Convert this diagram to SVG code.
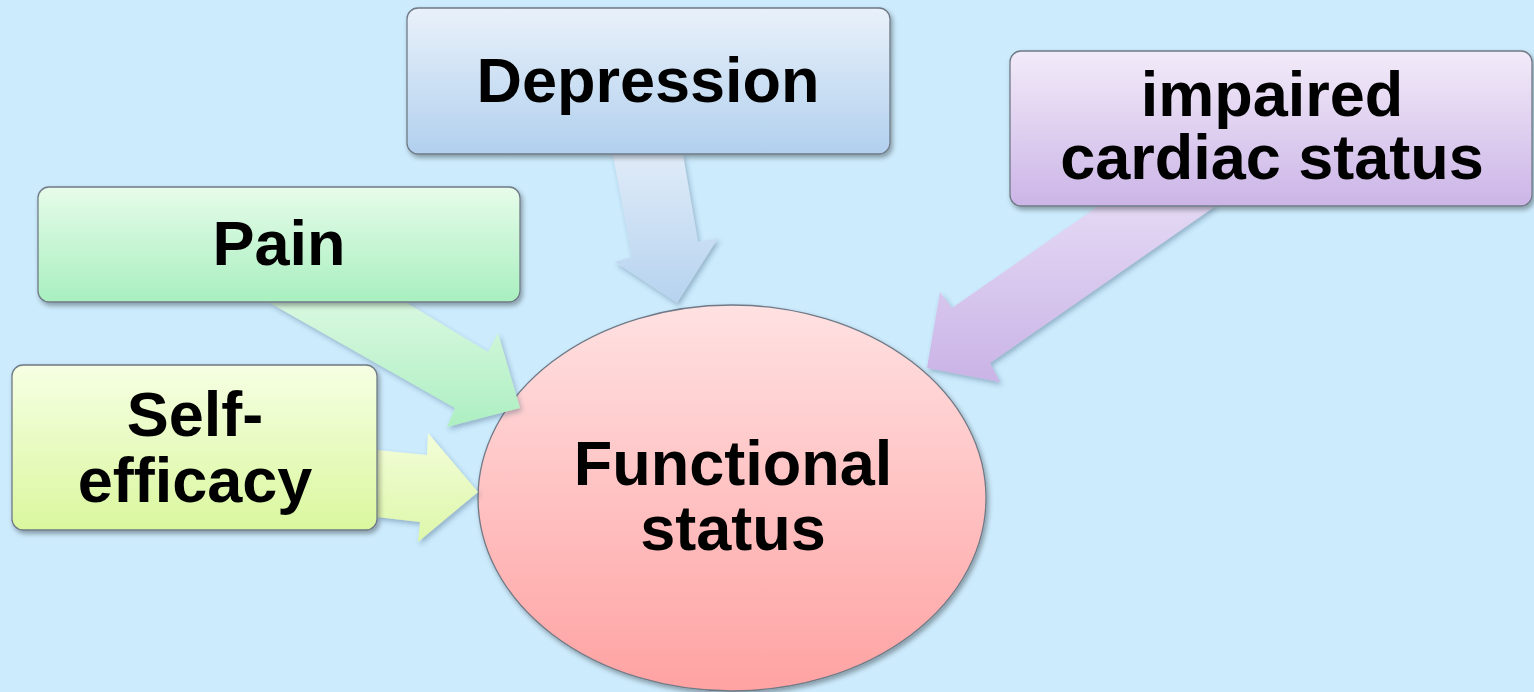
<svg xmlns="http://www.w3.org/2000/svg" width="1534" height="692" viewBox="0 0 1534 692">
  <defs>
    <style>
      .box { stroke: #6F7A86; stroke-width: 1.3; filter: url(#shadow); }
      .lbl { font-family: "Liberation Sans", Arial, sans-serif; font-weight: bold; font-size: 63px; fill: #000; text-anchor: middle; }
      .arrow { stroke: none; filter: url(#ashadow); }
    </style>
    <filter id="shadow" x="-10%" y="-10%" width="120%" height="130%">
      <feDropShadow dx="2" dy="3" stdDeviation="2.5" flood-color="#000" flood-opacity="0.35"/>
    </filter>
    <filter id="ashadow" x="-10%" y="-10%" width="120%" height="130%">
      <feDropShadow dx="2" dy="3" stdDeviation="2.5" flood-color="#2A4A66" flood-opacity="0.35"/>
    </filter>
    <linearGradient id="gDep" x1="0" y1="0" x2="0" y2="1">
      <stop offset="0" stop-color="#E9F1FA"/>
      <stop offset="1" stop-color="#B1D0EE"/>
    </linearGradient>
    <linearGradient id="gPain" x1="0" y1="0" x2="0" y2="1">
      <stop offset="0" stop-color="#E7FCEA"/>
      <stop offset="1" stop-color="#A8EFBF"/>
    </linearGradient>
    <linearGradient id="gSelf" x1="0" y1="0" x2="0" y2="1">
      <stop offset="0" stop-color="#F6FFE3"/>
      <stop offset="1" stop-color="#DAF79E"/>
    </linearGradient>
    <linearGradient id="gCard" x1="0" y1="0" x2="0" y2="1">
      <stop offset="0" stop-color="#F2EBF9"/>
      <stop offset="1" stop-color="#CCB5E7"/>
    </linearGradient>
    <linearGradient id="gFunc" x1="0" y1="0" x2="0" y2="1">
      <stop offset="0" stop-color="#FFE1E2"/>
      <stop offset="1" stop-color="#FFA2A2"/>
    </linearGradient>
    <linearGradient id="aDep" x1="0" y1="0" x2="0" y2="1">
      <stop offset="0" stop-color="#DFEBF8"/>
      <stop offset="1" stop-color="#B6D3EF"/>
    </linearGradient>
    <linearGradient id="aPain" x1="0" y1="0" x2="0" y2="1">
      <stop offset="0" stop-color="#D8F8DF"/>
      <stop offset="1" stop-color="#ADEFC2"/>
    </linearGradient>
    <linearGradient id="aSelf" x1="0" y1="0" x2="0" y2="1">
      <stop offset="0" stop-color="#F3FDD8"/>
      <stop offset="1" stop-color="#DDF7AA"/>
    </linearGradient>
    <linearGradient id="aCard" x1="0" y1="0" x2="0" y2="1">
      <stop offset="0" stop-color="#E3D8F4"/>
      <stop offset="1" stop-color="#CAB3E6"/>
    </linearGradient>
  </defs>

  <rect x="0" y="0" width="1534" height="692" fill="#CCEBFD"/>

  <g id="node-functional-status">
    <ellipse class="box" cx="732" cy="498" rx="254" ry="193" fill="url(#gFunc)"/>
    <text class="lbl" x="733" y="485">Functional</text>
    <text class="lbl" x="733" y="550">status</text>
  </g>

  <g id="connectors">
    <polygon class="arrow" fill="url(#aDep)" points="613,155 683,155 698,242 718,238 677,303 615,262 632,257"/>
    <polygon class="arrow" fill="url(#aPain)" points="270,303 407,303 488,352 498,333 520,408 447,427 455,408"/>
    <polygon class="arrow" fill="url(#aSelf)" points="377,450 427,455 428,433 478,492 418,542 420,522 377,517"/>
    <polygon class="arrow" fill="url(#aCard)" points="1100,205 1217,205 990,363 1000,382 927,368 940,292 952,308"/>
  </g>

  <g id="node-depression">
    <rect class="box" x="407" y="8" width="483" height="146" rx="11" fill="url(#gDep)"/>
    <text class="lbl" x="648" y="102">Depression</text>
  </g>

  <g id="node-pain">
    <rect class="box" x="38" y="187" width="482" height="115" rx="11" fill="url(#gPain)"/>
    <text class="lbl" x="279" y="265">Pain</text>
  </g>

  <g id="node-self-efficacy">
    <rect class="box" x="12" y="365" width="365" height="165" rx="11" fill="url(#gSelf)"/>
    <text class="lbl" x="195" y="436">Self-</text>
    <text class="lbl" x="195" y="502">efficacy</text>
  </g>

  <g id="node-impaired-cardiac-status">
    <rect class="box" x="1010" y="51" width="522" height="155" rx="11" fill="url(#gCard)"/>
    <text class="lbl" x="1272" y="116">impaired</text>
    <text class="lbl" x="1272" y="179">cardiac status</text>
  </g>
</svg>
